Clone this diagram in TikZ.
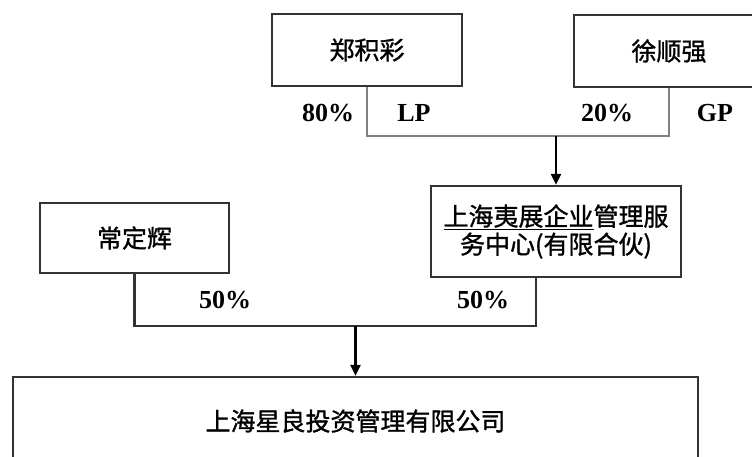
\documentclass[tikz,border=0pt]{standalone}
\usepackage{fontspec}
\setmainfont{Liberation Serif}
\newfontfamily\cjk[FakeBold=1.2]{Noto Sans CJK SC}
\usetikzlibrary{arrows.meta}
\usepackage{xcolor}

\definecolor{boxline}{HTML}{333333}
\definecolor{thinline}{HTML}{808080}

\tikzset{
  holder/.style={draw=boxline, line width=2.4pt, font=\cjk\fontsize{25}{30}\selectfont,
    align=center, inner sep=0pt},
  share/.style={font=\bfseries\fontsize{26}{30}\selectfont, inner sep=0pt},
  leg/.style={draw=boxline, line width=2.2pt},
  arr/.style={draw=black, line width=2.6pt, -{Triangle[length=11pt,width=10pt]}}
}

\begin{document}
\begin{tikzpicture}[x=1pt,y=-1pt]
	    \useasboundingbox (0,0) rectangle (752,456);
	    \clip (0,0) rectangle (752,456);
	    \node(zheng) [holder, minimum width=190pt, minimum height=72pt] at (367,50) {郑积彩};
	    \node(xu) [holder, minimum width=190pt, minimum height=72pt] at (669,51) {徐顺强};
	    \node(chang) [holder, minimum width=189pt, minimum height=70pt] at (134.5,238) {常定辉};
	    \node(yizhan) [holder, minimum width=250pt, minimum height=91pt] at (556,231.5)
	        {\underline{上海夷展企业}管理服\\[-2pt]务中心(有限合伙)};
	    \node(xingliang) [holder, minimum width=685pt, minimum height=88pt] at (355.5,421) {上海星良投资管理有限公司};
	    \node(p80) [share] at (328,113) {80\%};
	    \node(lp) [share] at (414,113) {LP};
	    \node(p20) [share] at (607,113) {20\%};
	    \node(gp) [share] at (715,113) {GP};
	    \node(p50a) [share] at (225,300) {50\%};
	    \node(p50b) [share] at (483,300) {50\%};
	    \coordinate (topjoin) at (556,136);
	    \coordinate (botjoin) at (355.5,326);
	    \coordinate (yzleg) at ([xshift=-20pt]yizhan.south);
	    \draw[thinline, line width=1.6pt] (zheng.south) |- (topjoin) -| (xu.south);
	    \draw[arr] (topjoin) -- (yizhan.north);
	    \draw[leg] (chang.south) |- (botjoin) -| (yzleg);
	    \draw[arr, line width=3pt] (botjoin) -- (xingliang.north);
	  \end{tikzpicture}
\end{document}
